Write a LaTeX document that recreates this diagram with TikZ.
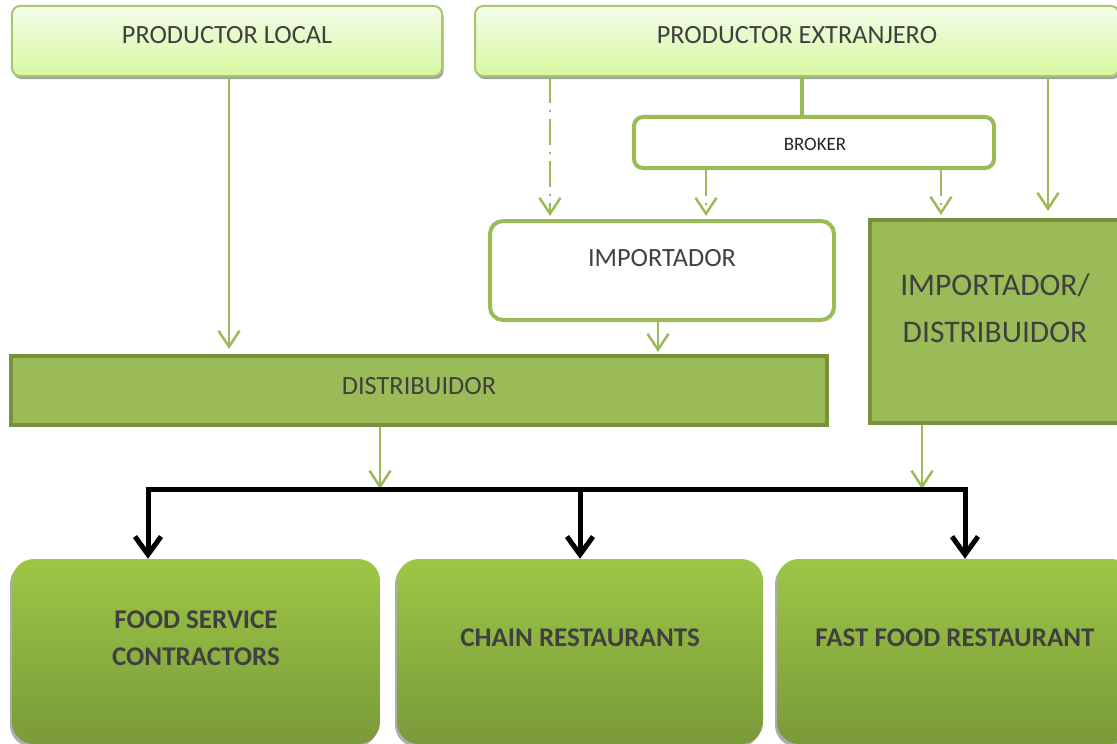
\documentclass[tikz,border=0pt]{standalone}
\usepackage{fontspec}
\setmainfont{Carlito}
\usetikzlibrary{arrows.meta,shadows,calc}
\definecolor{gline}{HTML}{9BBB59}
\definecolor{gdark}{HTML}{76923C}
\definecolor{gfill}{HTML}{9BBB59}
\definecolor{txt}{HTML}{404040}
\definecolor{ltop}{HTML}{F3FCE8}
\definecolor{lbot}{HTML}{D8F8A2}
\definecolor{btop}{HTML}{9DC646}
\definecolor{bbot}{HTML}{7A9A3A}
\begin{document}
\begin{tikzpicture}[x=1bp,y=-1bp,
  prodbox/.style={draw=gline!85!white, line width=2bp, rounded corners=8bp, top color=ltop, bottom color=lbot,
    drop shadow={shadow xshift=1.5bp, shadow yshift=-3bp, fill=black!45, opacity=0.8}},
  whitebox/.style={draw=gline, line width=4bp, rounded corners=9bp, fill=white},
  dbox/.style={draw=gdark, line width=4bp, fill=gfill},
  botbox/.style={draw=none, rounded corners=22bp, top color=btop, bottom color=bbot,
    drop shadow={shadow xshift=-2bp, shadow yshift=-3bp, fill=black!40, opacity=0.8}},
  lbl/.style={text=txt, inner sep=0pt, align=center, font=\fontsize{26.3bp}{31bp}\selectfont},
  boldlbl/.style={lbl, font=\fontsize{27bp}{37bp}\selectfont\bfseries},
  gcon/.style={draw=gline, line width=2.5bp, -{Straight Barb[length=16bp,width=21bp]}},
  dashdot/.style={dash pattern=on 26bp off 7bp on 2bp off 7bp},
  blk/.style={draw=black, line width=5bp, -{Straight Barb[length=18bp,width=26bp]}}
]
\useasboundingbox (0,0) rectangle (1117,744);
\clip (0,0) rectangle (1117,744);

% boxes
\node[prodbox, minimum width=430bp, minimum height=70bp] (pl) at (227,41) {};
\node[lbl] (plt) at (227,35) {PRODUCTOR LOCAL};
\node[prodbox, minimum width=644bp, minimum height=70bp] (pe) at (797,41) {};
\node[lbl] (pet) at (797,35) {PRODUCTOR EXTRANJERO};

\node[whitebox, minimum width=360bp, minimum height=51bp] (br) at (814,142.5) {};
\node[lbl, text=black!85, font=\fontsize{19bp}{23bp}\selectfont] (brt) at (815,144) {BROKER};

\node[whitebox, rounded corners=13bp, minimum width=344bp, minimum height=99bp] (imp) at (662,270.5) {};
\node[lbl] (impt) at (662,258) {IMPORTADOR};

\node[dbox, minimum width=250bp, minimum height=203bp] (id) at (995,321.5) {};
\node[lbl, font=\fontsize{31.5bp}{47bp}\selectfont] (idt) at (995,308.5) {IMPORTADOR/\\DISTRIBUIDOR};

\node[dbox, minimum width=816bp, minimum height=69bp] (dist) at (419,390.5) {};
\node[lbl] (distt) at (419,386) {DISTRIBUIDOR};

\node[botbox, minimum width=368bp, minimum height=185bp] (fsc) at (196,651.5) {};
\node[boldlbl] (fsct) at (196,638.5) {FOOD SERVICE\\CONTRACTORS};
\node[botbox, minimum width=366bp, minimum height=185bp] (chain) at (580,651.5) {};
\node[boldlbl] (chaint) at (580,638) {CHAIN RESTAURANTS};
\node[botbox, minimum width=356bp, minimum height=185bp] (fast) at (955,651.5) {};
\node[boldlbl] (fastt) at (955,638) {FAST FOOD RESTAURANT};

% x positions
\coordinate (xa) at (229,0);
\coordinate (xb) at (550,0);
\coordinate (xc) at (802,0);
\coordinate (xd) at (706,0);
\coordinate (xe) at (941,0);
\coordinate (xf) at (1048,0);
\coordinate (xg) at (658,0);
\coordinate (xh) at (380,0);
\coordinate (xi) at (922,0);
\coordinate (jl) at (148,489);
\coordinate (jm) at (580,489);
\coordinate (jr) at (965,489);

% green connectors
\draw[gcon, shorten >=5bp] (pl.south -| xa) -- (dist.north -| xa);
\draw[gcon, dashdot, shorten >=3bp] (pe.south -| xb) -- (imp.north -| xb);
\draw[draw=gline, line width=4bp] (pe.south -| xc) -- (br.north -| xc);
\draw[gcon, dashdot, shorten >=3bp] (br.south -| xd) -- (imp.north -| xd);
\draw[gcon, dashdot, shorten >=3bp] (br.south -| xe) -- (id.north -| xe);
\draw[gcon, shorten >=7bp] (pe.south -| xf) -- (id.north -| xf);
\draw[gcon, dashdot, shorten >=2bp] (imp.south -| xg) -- (dist.north -| xg);
\draw[gcon] (dist.south -| xh) -- (jl -| xh);
\draw[gcon] (id.south -| xi) -- (jl -| xi);

% black distribution bar
\draw[blk] (jr) -- (jl) -- (jl |- fsc.north);
\draw[blk, line cap=rect] (jr) -- (jr |- fast.north);
\draw[blk] (jm) -- (jm |- chain.north);
\end{tikzpicture}
\end{document}
